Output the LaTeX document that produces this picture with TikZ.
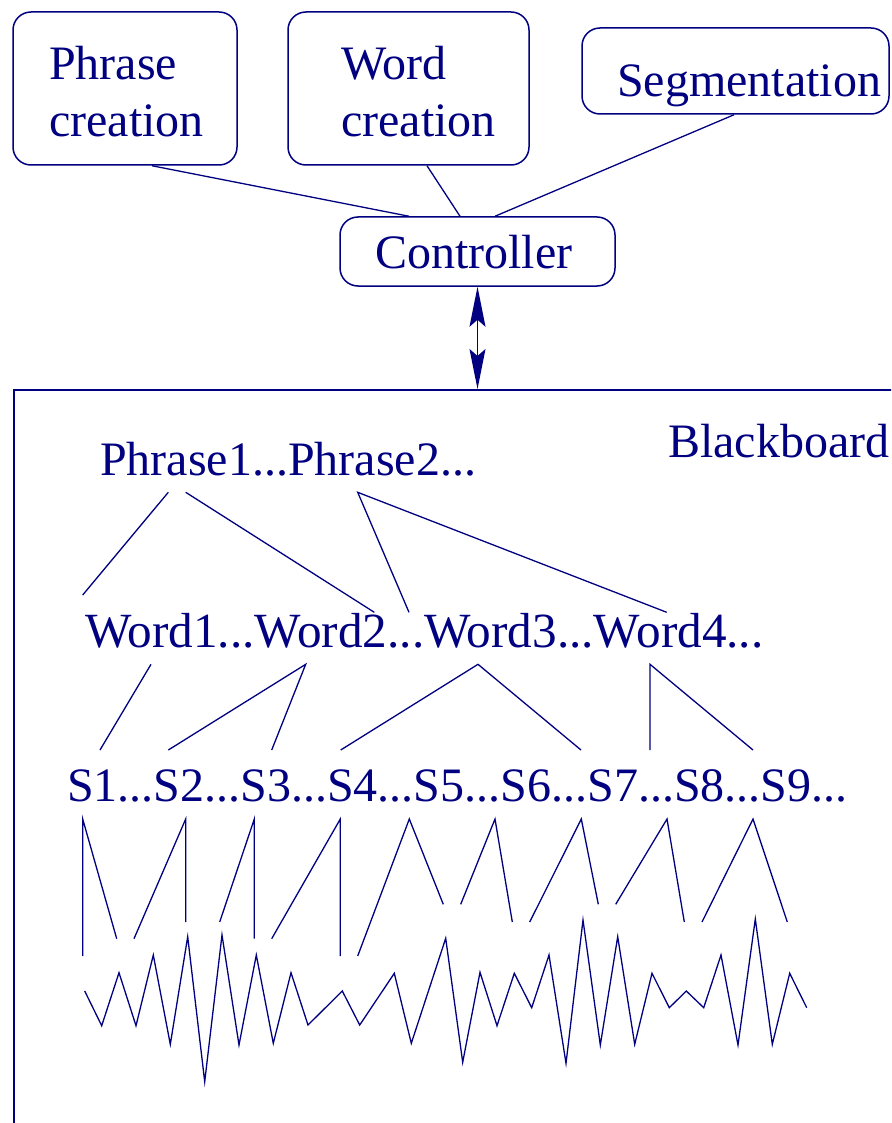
\documentclass[tikz,border=0pt]{standalone}
\usepackage{fontspec}
\setmainfont{Liberation Serif}
\usetikzlibrary{arrows.meta}
\definecolor{ink}{rgb}{0,0,0.5}
\begin{document}
\begin{tikzpicture}[x=1pt,y=-1pt,
  box/.style={draw=ink, line width=1.5pt, rounded corners=18pt, inner sep=0pt},
  lbl/.style={text=ink, font=\fontsize{48}{57}\selectfont, inner sep=0pt, anchor=base west},
  link/.style={draw=ink, line width=1.3pt, line join=miter},
  tip/.tip={Stealth[length=40pt,width=16pt,inset=7pt]}]
\useasboundingbox (0,0) rectangle (891,1123);
\clip (0,0) rectangle (891,1123);

% knowledge sources and controller
\node[box, minimum width=224pt, minimum height=153pt] (pc) at (125,88.5) {};
\node[box, minimum width=241pt, minimum height=153pt] (wc) at (408.5,88.5) {};
\node[box, minimum width=307pt, minimum height=86pt] (sg) at (735.5,71) {};
\node[box, minimum width=275pt, minimum height=69pt] (ctrl) at (477.5,251.5) {};

\node[lbl] (pc1) at (49,80) {Phrase};
\node[lbl] (pc2) at (49,137) {creation};
\node[lbl] (wc1) at (341,80) {Word};
\node[lbl] (wc2) at (341,137) {creation};
\node[lbl] (sgt) at (617,97) {Segmentation};
\node[lbl] (ctt) at (375,268) {Controller};

\draw[link] ([xshift=27pt]pc.south) -- ([xshift=-68.5pt]ctrl.north);
\draw[link] ([xshift=18.5pt]wc.south) -- ([xshift=-17.5pt]ctrl.north);
\draw[link] ([xshift=-1.5pt]sg.south) -- ([xshift=17.5pt]ctrl.north);

% blackboard
\node[draw=ink, line width=1.5pt, minimum width=1000pt, minimum height=800pt,
      anchor=north west, inner sep=0pt] (bb) at (13.3,389) {};
\node[lbl] (bbt) at (668,457) {Blackboard};
\draw[link, tip-tip] (ctrl.south) -- (ctrl.south |- bb.north);

% hypothesis levels
\node[lbl] (phr) at (100,475) {Phrase1...Phrase2...};
\node[lbl, font=\fontsize{49.2}{57}\selectfont] (wrd) at (85,647) {Word1...Word2...Word3...Word4...};
\node[lbl] (seg) at (67,801.7) {S1...S2...S3...S4...S5...S6...S7...S8...S9...};

% phrase -> word links
\coordinate (p1a) at (168.3,492.3);
\coordinate (p1b) at (185.7,492.3);
\coordinate (p2)  at (357.7,492.3);
\coordinate (w1t) at (82.7,595);
\coordinate (w2t) at (374.3,612.3);
\coordinate (w3t) at (409,612.3);
\coordinate (w4t) at (666.7,612.3);
\draw[link] (p1a) -- (w1t);
\draw[link] (p1b) -- (w2t);
\draw[link] (w3t) -- (p2) -- (w4t);

% word -> segment links
\coordinate (w1b) at (151,664.3);
\coordinate (w2b) at (305.7,664.3);
\coordinate (w3b) at (478,664.3);
\coordinate (w4b) at (650,664.3);
\coordinate (s1) at (100,750);
\coordinate (s2) at (168.3,750);
\coordinate (s3) at (271.7,750);
\coordinate (s4) at (340.7,750);
\coordinate (s7) at (581,750);
\coordinate (s8) at (650,750);
\coordinate (s9) at (753,750);
\draw[link] (w1b) -- (s1);
\draw[link] (s2) -- (w2b) -- (s3);
\draw[link] (s4) -- (w3b) -- (s7);
\draw[link] (s8) -- (w4b) -- (s9);

% segment -> signal links
\draw[link] (82.7,956)--(82.7,819)--(116.7,938.7);
\draw[link] (134,938.7)--(185.7,819)--(185.7,922);
\draw[link] (219.7,922)--(254.3,819)--(254.3,938.7);
\draw[link] (271.7,938.7)--(340.3,819)--(340.3,956);
\draw[link] (357.7,956)--(409.3,819)--(443.3,904.3);
\draw[link] (460.7,904.3)--(495,819)--(512.3,922);
\draw[link] (529.7,922)--(581.3,819)--(598.3,904.3);
\draw[link] (615.7,904.3)--(667,819)--(684.3,922);
\draw[link] (702,922)--(753,819)--(787.3,922);

% signal waveform
\draw[link] (84.7,991)--(101.7,1025.7)--(119,972.7)--(136,1025.7)--(153.3,955)
  --(170.3,1044.3)--(187.7,936.7)--(204.7,1081.7)--(222,935)--(239,1045)
  --(256.3,955)--(273.3,1043.3)--(291,972.7)--(308,1025)--(342.3,991)
  --(359.7,1025)--(394.3,973.3)--(411.3,1043.3)--(445.7,938.3)--(462.7,1062.3)
  --(480,972.3)--(497,1025.7)--(514.3,973.3)--(531.7,1007.7)--(549,955)
  --(566,1063.3)--(583,920)--(600.3,1045)--(617.7,936.7)--(634.7,1044.3)
  --(652,973.3)--(669.3,1007.7)--(686.3,991)--(703.7,1007.7)--(721,955)
  --(738,1045)--(755.3,919)--(772.3,1044.3)--(789.7,973.3)--(806.7,1007.7);
\end{tikzpicture}
\end{document}
